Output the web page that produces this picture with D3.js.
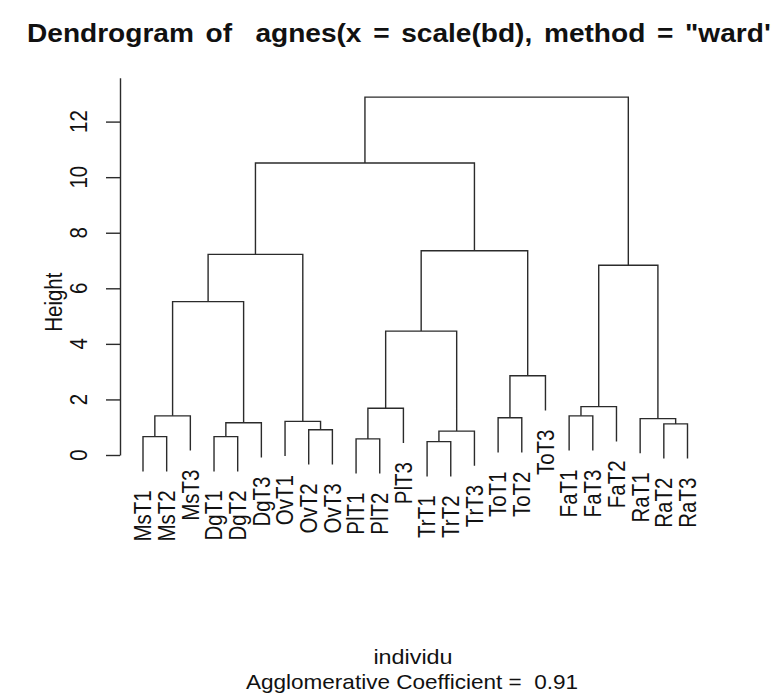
<!DOCTYPE html>
<html>
<head>
<meta charset="utf-8">
<script src="https://cdn.jsdelivr.net/npm/d3@7"></script>
<style>
  html, body { margin: 0; padding: 0; background: #fff; }
  svg { display: block; }
  text { font-family: "Liberation Sans", Arial, sans-serif; fill: #111; white-space: pre; }
</style>
</head>
<body>
<svg id="chart" width="771" height="695"></svg>
<script>
// ---- data ----
const leafLabels = ["MsT1","MsT2","MsT3","DgT1","DgT2","DgT3","OvT1","OvT2","OvT3",
  "PlT1","PlT2","PlT3","TrT1","TrT2","TrT3","ToT1","ToT2","ToT3",
  "FaT1","FaT3","FaT2","RaT1","RaT2","RaT3"];
// R-style merge matrix: negative = leaf (1-based, display order), positive = earlier merge
const mergeA = [-1, 1, -4, 3, -8, -7, 2, 7, -10, 9, -13, 11, 10, -16, 14, 13, 8, -19, 18, -23, -22, 19, 17];
const mergeB = [-2, -3, -5, -6, -9, 5, 4, 6, -11, -12, -14, -15, 12, -17, -18, 15, 16, -20, -21, -24, 20, 21, 22];
const mergeHeight = [0.66, 1.41, 0.66, 1.16, 0.91, 1.21, 5.52, 7.22, 0.58, 1.68, 0.48, 0.86, 4.46,
  1.34, 2.85, 7.35, 10.51, 1.41, 1.74, 1.12, 1.31, 6.83, 12.88];
const yTicks = [0, 2, 4, 6, 8, 10, 12];
const titleText = 'Dendrogram of  agnes(x = scale(bd), method = "ward")';
const xTitle = "individu";
const subTitle = "Agglomerative Coefficient =  0.91";
const yTitle = "Height";
const hang = 1.25;

// ---- layout ----
const svg = d3.select("#chart");
const sx = 1.14, fs = 20.5;
const x = d3.scaleLinear().domain([1, leafLabels.length]).range([143, 687.5]);
const y = d3.scaleLinear().domain([0, 13.58]).range([455, 77.7]);
const lineColor = "#2b2b2b";

// build tree from merges
function build(k) { // k: R index
  if (k < 0) return { leaf: true, idx: -k, name: leafLabels[-k - 1] };
  const i = k - 1;
  return { leaf: false, h: mergeHeight[i], children: [build(mergeA[i]), build(mergeB[i])] };
}
const root = d3.hierarchy(build(mergeA.length));
root.eachAfter(n => {
  if (n.data.leaf) { n.px = x(n.data.idx); }
  else { n.px = (n.children[0].px + n.children[1].px) / 2; n.ph = n.data.h; }
});
root.each(n => {
  if (n.data.leaf) n.ph = n.parent.data.h - hang;
});

const g = svg.append("g");
root.each(n => {
  if (n.data.leaf) return;
  const [a, b] = n.children;
  const p = d3.path();
  p.moveTo(a.px, y(a.ph));
  p.lineTo(a.px, y(n.ph));
  p.lineTo(b.px, y(n.ph));
  p.lineTo(b.px, y(b.ph));
  g.append("path").attr("d", p.toString()).attr("fill", "none")
    .attr("stroke", lineColor).attr("stroke-width", 1.4);
});

// leaf labels
const cap = 0.716 * fs * sx;
root.leaves().forEach(n => {
  svg.append("text")
    .attr("transform", `translate(${n.px + cap / 2},${y(n.ph) + 19}) scale(${sx},1) rotate(-90)`)
    .attr("text-anchor", "end")
    .attr("font-size", fs)
    .text(n.data.name);
});

// y axis
const axis = d3.axisLeft(y).tickValues(yTicks).tickSize(14).tickSizeOuter(0).tickFormat("");
const ax = svg.append("g").attr("transform", "translate(120,0)").call(axis);
ax.selectAll("path, line").attr("stroke", lineColor).attr("stroke-width", 1.4);
yTicks.forEach(t => {
  svg.append("text")
    .attr("transform", `translate(${79 + cap / 2},${y(t)}) scale(${sx},1) rotate(-90)`)
    .attr("text-anchor", "middle")
    .attr("font-size", fs)
    .text(d3.format("d")(t));
});

// axis titles
svg.append("text")
  .attr("transform", `translate(${54 + cap / 2},${y(5.5)}) scale(${sx},1) rotate(-90)`)
  .attr("text-anchor", "middle").attr("font-size", fs).text(yTitle);
svg.append("text")
  .attr("transform", `translate(413,664) scale(${sx},1)`)
  .attr("text-anchor", "middle").attr("font-size", fs).text(xTitle);
svg.append("text")
  .attr("transform", `translate(412,689) scale(1.1,1)`)
  .attr("text-anchor", "middle").attr("font-size", fs).text(subTitle);

// title (clipped at the right edge, as in the reference)
svg.append("text")
  .attr("transform", `translate(27,42) scale(1.08,1)`)
  .attr("text-anchor", "start").attr("font-size", 26).attr("font-weight", "bold")
  .attr("word-spacing", 3.6)
  .text(titleText);
</script>
</body>
</html>
